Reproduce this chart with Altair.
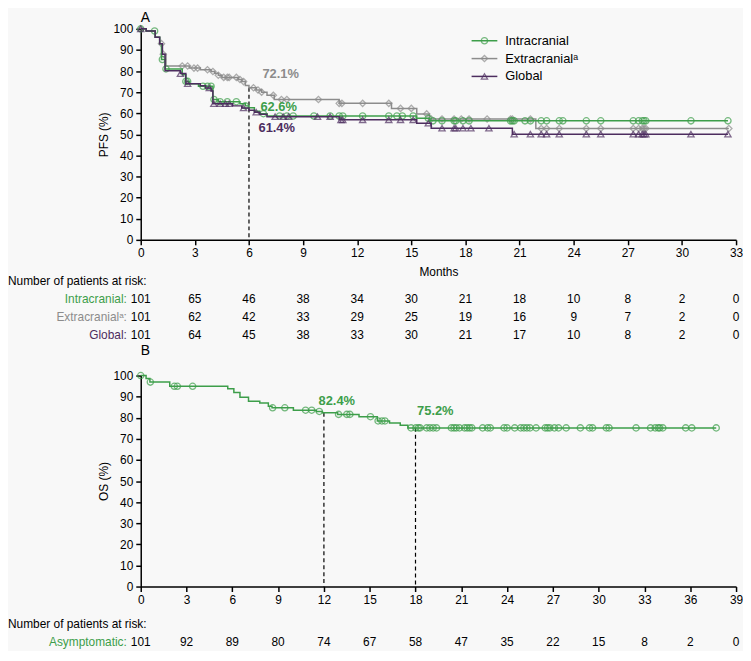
import altair as alt
import pandas as pd

GREEN = "#3d9e4a"
GREY = "#8c8c8c"
PURPLE = "#4d2d5f"
FONT = "Liberation Sans, Arial, Helvetica, sans-serif"
TFONT = "Liberation Sans, Arial, Helvetica, sans-serif"

# ---------------- Panel A (PFS) ----------------
intra_t = [0, 0.3, 0.8, 1.05, 1.15, 1.35, 2.3, 2.5, 2.7, 3.2, 4.0, 4.3, 5.5, 5.8, 6.0, 6.3, 6.6, 7.0, 15.3, 16.0]
intra_s = [100, 99, 96, 93, 85.5, 81, 78.3, 75.1, 74, 72.8, 66.5, 65.5, 64.5, 63.5, 62.6, 61, 59.8, 58.7, 57.6, 56.4]
intra_c = [0, 0.77, 1.2, 1.4, 2.5, 2.6, 3.45, 3.7, 3.9, 4.06, 4.4, 4.8, 5.3, 5.8, 6.8, 7.7, 8.1, 8.45, 9.6,
           10.5, 11.0, 11.2, 12.3, 13.75, 14.2, 14.5, 15.1, 15.94, 16.2, 16.7, 17.37, 17.46, 17.86, 18.2, 20.5,
           20.6, 20.7, 21.3, 21.6, 22.2, 22.5, 23.2, 23.4, 24.7, 25.5, 27.3, 27.6, 27.8, 27.9, 28.0, 30.5, 32.55]

extra_t = [0, 0.3, 0.8, 1.05, 1.2, 1.4, 2.7, 3.3, 3.9, 4.1, 4.3, 4.5, 5.4, 5.6, 5.8, 6.0, 6.4, 6.7, 7.0, 7.4,
           11.0, 13.9, 15.3, 16.0, 21.9]
extra_s = [100, 99, 96, 93, 88, 82.4, 81.4, 80.6, 79.8, 79, 78, 77, 76, 75, 73.2, 72.1, 71, 70, 68.5, 66.5,
           64.7, 62.3, 59.7, 57.3, 52.8]
extra_c = [0, 1.15, 1.25, 2.3, 2.6, 2.95, 3.15, 3.7, 4.0, 4.3, 4.6, 4.8, 4.9, 5.3, 5.5, 5.7, 6.25, 6.5, 6.7,
           7.35, 7.8, 8.1, 9.85, 11.0, 11.15, 12.3, 13.75, 14.4, 15.0, 15.85, 16.1, 16.7, 17.37, 17.77, 18.2,
           19.2, 20.5, 20.6, 21.6, 22.2, 22.5, 23.2, 24.7, 25.5, 27.3, 27.6, 27.8, 27.9, 28.0, 32.6]

glob_t = [0, 0.3, 0.8, 1.05, 1.2, 1.35, 2.2, 2.5, 3.3, 3.6, 3.9, 4.0, 5.1, 5.6, 6.0, 6.3, 6.6, 7.0, 11.0,
          15.3, 16.1, 20.6]
glob_s = [100, 99, 96, 93, 88, 80.2, 78.8, 74, 73, 72, 70.6, 64.5, 63.5, 62.5, 61.4, 60.5, 59.5, 58.4, 56.9,
          55.3, 52.9, 50.1]
glob_c = [0, 2.2, 2.6, 3.8, 4.05, 4.4, 4.7, 4.9, 5.7, 6.4, 7.45, 7.9, 8.2, 9.8, 10.5, 11.1, 11.2, 12.3, 13.75,
          14.4, 15.1, 15.94, 16.7, 17.37, 17.46, 17.86, 18.3, 19.3, 20.7, 21.6, 22.2, 22.5, 23.2, 24.7, 25.5,
          27.3, 27.6, 27.8, 27.9, 28.0, 30.5, 32.55]

series_names = ["Intracranial", "Extracranialᵃ", "Global"]
series_colors = [GREEN, GREY, PURPLE]
series_shapes = ["circle", "diamond", "triangle-up"]

risk_t_A = [0, 3, 6, 9, 12, 15, 18, 21, 24, 27, 30, 33]
risk_intra = [101, 65, 46, 38, 34, 30, 21, 18, 10, 8, 2, 0]
risk_extra = [101, 62, 42, 33, 29, 25, 19, 16, 9, 7, 2, 0]
risk_glob = [101, 64, 45, 38, 33, 30, 21, 17, 10, 8, 2, 0]

landmark_A_t = 6
landmark_A_vals = [62.6, 72.1, 61.4]  # intracranial, extracranial, global

# ---------------- Panel B (OS) ----------------
os_t = [0, 0.35, 0.6, 1.9, 5.7, 6.1, 6.5, 7.06, 7.8, 8.36, 8.6, 10.0, 11.5, 11.9, 12.9, 14.3, 15.5, 16.3,
        17.0, 17.5]
os_s = [100, 98.6, 96.9, 94.9, 93.8, 92.0, 89.7, 87.8, 87.0, 85.5, 84.7, 83.6, 83.0, 82.4, 81.6, 80.5, 78.5,
        77.5, 76.4, 75.2]
os_c = [0, 0.63, 2.2, 2.4, 3.4, 8.64, 9.44, 10.8, 11.2, 11.7, 12.96, 13.5, 13.7, 15.05, 15.55, 15.8, 16.0,
        17.71, 18.02, 18.19, 18.30, 18.73, 18.94, 19.16, 19.38, 20.35, 20.52, 20.67, 20.88, 21.21, 21.38,
        21.54, 21.69, 22.4, 22.72, 22.9, 23.8, 24.0, 24.5, 24.89, 25.1, 25.3, 25.5, 25.9, 26.5, 26.65, 26.8,
        27.1, 27.37, 27.87, 28.8, 29.4, 29.6, 30.5, 30.68, 32.45, 33.4, 33.7, 33.9, 34.0, 34.2, 35.7, 36.1, 37.7]

risk_t_B = [0, 3, 6, 9, 12, 15, 18, 21, 24, 27, 30, 33, 36, 39]
risk_os = [101, 92, 89, 80, 74, 67, 58, 47, 35, 22, 15, 8, 2, 0]

landmark_B_t = [12, 18]
landmark_B_vals = [82.4, 75.2]

Y_TICKS = list(range(0, 101, 10))


def step_value(ts, ss, t):
    v = ss[0]
    for ti, si in zip(ts, ss):
        if ti <= t:
            v = si
        else:
            break
    return v


def km_frames(ts, ss, cens):
    end = max(cens)
    line = pd.DataFrame({"t": ts + [end], "s": ss + [ss[-1]]})
    pts = pd.DataFrame({"t": cens, "s": [step_value(ts, ss, c) for c in cens]})
    return line, pts


W, H = 601, 213

axis_common = dict(domainColor="black", domainWidth=1.5, tickColor="black", tickWidth=1.5, tickSize=5,
                   labelFont=FONT, labelFontSize=12, labelColor="black", titleFont=FONT, titleFontSize=12,
                   titleFontWeight="normal", titleColor="black", grid=False, labelPadding=3,
                   labelOverlap=False, labelFlush=False)


def panel(series, xmax, ytitle, xtitle, risk_t, risk_rows, landmarks, letter, risk_y0):
    xs = alt.Scale(domain=[0, xmax], nice=False, zero=False)
    ys = alt.Scale(domain=[0, 100], nice=False, zero=False)
    x_ticks = list(range(0, xmax + 1, 3))
    if xtitle:
        xaxis = alt.Axis(values=x_ticks, tickCount=len(x_ticks), title=xtitle, titlePadding=8, **axis_common)
    else:
        xaxis = alt.Axis(values=x_ticks, tickCount=len(x_ticks), title=None, **axis_common)
    yaxis = alt.Axis(values=Y_TICKS, tickCount=len(Y_TICKS), title=ytitle, titlePadding=3, **axis_common)

    X = lambda: alt.X("t:Q", scale=xs, axis=xaxis)
    Y = lambda: alt.Y("s:Q", scale=ys, axis=yaxis)

    layers = []
    lm_df = pd.DataFrame({"t": [l[0] for l in landmarks["lines"]], "s": [l[1] for l in landmarks["lines"]],
                          "base": [0] * len(landmarks["lines"])})
    layers.append(alt.Chart(lm_df).mark_rule(color="black", strokeDash=[4, 3], strokeWidth=1.2).encode(
        x=X(), y=Y(), y2="base:Q"))

    for (ts, ss, cs, color, shape) in series:
        line_df, pts_df = km_frames(ts, ss, cs)
        layers.append(alt.Chart(line_df).mark_line(interpolate="step-after", color=color, strokeWidth=1.5).encode(
            x=X(), y=Y()))
        layers.append(alt.Chart(pts_df).mark_point(shape=shape, color=color, filled=False, size=40,
                                                   strokeWidth=1.3).encode(x=X(), y=Y()))

    for (t, v, color, dx, dy) in landmarks["labels"]:
        df = pd.DataFrame({"t": [t], "s": [v], "lab": [f"{v:.1f}%"]})
        layers.append(alt.Chart(df).mark_text(color=color, fontWeight="bold", font=FONT, fontSize=13,
                                              dx=dx, dy=dy, align="center", baseline="middle").encode(
            x=X(), y=Y(), text="lab:N"))

    # panel letter
    layers.append(alt.Chart(pd.DataFrame({"lab": [letter]})).mark_text(
        font=FONT, fontSize=14, align="left", baseline="middle", color="black").encode(
        x=alt.value(0), y=alt.value(-11 if letter == "A" else -25), text="lab:N"))

    # risk table
    layers.append(alt.Chart(pd.DataFrame({"lab": ["Number of patients at risk:"]})).mark_text(
        font=TFONT, fontSize=12, align="left", baseline="middle", color="black").encode(
        x=alt.value(-134), y=alt.value(risk_y0), text="lab:N"))
    for i, (name, color, nums) in enumerate(risk_rows):
        ry = risk_y0 + 18 * (i + 1)
        layers.append(alt.Chart(pd.DataFrame({"lab": [name + ":"]})).mark_text(
            font=TFONT, fontSize=12, align="right", baseline="middle", color=color).encode(
            x=alt.value(-14), y=alt.value(ry), text="lab:N"))
        layers.append(alt.Chart(pd.DataFrame({"t": risk_t, "n": nums})).mark_text(
            font=TFONT, fontSize=12, align="center", baseline="middle", color="black").encode(
            x=X(), y=alt.value(ry), text="n:Q"))

    return alt.layer(*layers).properties(width=W, height=H)


seriesA = [
    (extra_t, extra_s, extra_c, GREY, "diamond"),
    (intra_t, intra_s, intra_c, GREEN, "circle"),
    (glob_t, glob_s, glob_c, PURPLE, "triangle-up"),
]
landmarksA = {
    "lines": [(landmark_A_t, landmark_A_vals[1])],
    "labels": [
        (landmark_A_t, landmark_A_vals[1], GREY, 32, -14),
        (landmark_A_t, landmark_A_vals[0], GREEN, 30, -1),
        (landmark_A_t, landmark_A_vals[2], PURPLE, 28, 18),
    ],
}
risk_rows_A = [(series_names[0], GREEN, risk_intra), (series_names[1], GREY, risk_extra),
               (series_names[2], PURPLE, risk_glob)]

chartA = panel(seriesA, 33, "PFS (%)", "Months", risk_t_A, risk_rows_A, landmarksA, "A", 255)

# legend for panel A
leg_df = pd.DataFrame({"series": series_names, "row": [0, 1, 2]})
leg_color = alt.Color("series:N", scale=alt.Scale(domain=series_names, range=series_colors), legend=None)
leg_shape = alt.Shape("series:N", scale=alt.Scale(domain=series_names, range=series_shapes), legend=None)
leg_y = alt.Y("ly:Q", scale=None, axis=None)
leg_base = alt.Chart(leg_df).transform_calculate(ly="12 + 18 * datum.row")
leg_rule = leg_base.mark_rule(strokeWidth=1.5).encode(x=alt.value(334), x2=alt.value(360), y=leg_y,
                                                      color=leg_color)
leg_pt = leg_base.mark_point(filled=False, size=40, strokeWidth=1.3).encode(x=alt.value(347), y=leg_y,
                                                                            color=leg_color, shape=leg_shape)
leg_txt = leg_base.mark_text(align="left", baseline="middle", font=FONT, fontSize=13, color="black").encode(
    x=alt.value(368), y=leg_y, text="series:N")
chartA = alt.layer(chartA, leg_rule, leg_pt, leg_txt).resolve_scale(color="independent", shape="independent")

seriesB = [(os_t, os_s, os_c, GREEN, "circle")]
landmarksB = {
    "lines": [(landmark_B_t[0], landmark_B_vals[0]), (landmark_B_t[1], landmark_B_vals[1])],
    "labels": [
        (landmark_B_t[0], landmark_B_vals[0], GREEN, 13, -12),
        (landmark_B_t[1], landmark_B_vals[1], GREEN, 20, -17),
    ],
}
risk_rows_B = [("Asymptomatic", GREEN, risk_os)]
chartB = panel(seriesB, 39, "OS (%)", None, risk_t_B, risk_rows_B, landmarksB, "B", 251)

chart = alt.vconcat(chartA, chartB, spacing=3).properties(
    background="#f8f8f8", padding=0
).configure_view(stroke=None)

chart.save("out.html", embed_options={"renderer": "svg", "actions": False})
